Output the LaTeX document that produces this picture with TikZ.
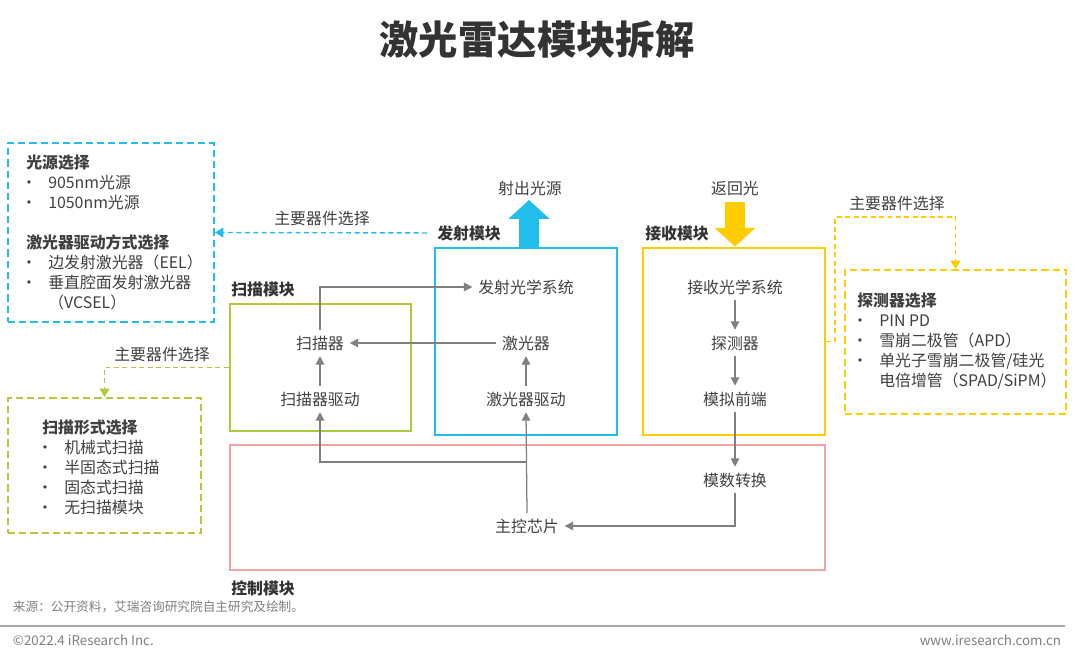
\documentclass[tikz,border=0pt]{standalone}
\usepackage{fontspec}
\setmainfont{Noto Sans CJK SC}
\usetikzlibrary{arrows.meta,fit}
\definecolor{cTx}{HTML}{22BEEB}
\definecolor{cRx}{HTML}{FFCC00}
\definecolor{cScan}{HTML}{ADCB3F}
\definecolor{cCtl}{HTML}{F0A3A3}
\definecolor{cText}{HTML}{404040}
\definecolor{cTitle}{HTML}{333333}
\definecolor{cLine}{HTML}{808080}
\definecolor{cFoot}{HTML}{7F7F7F}
\definecolor{cRule}{HTML}{A6A6A6}
\newcommand{\bul}{\makebox[0.55cm][l]{\hspace{-0.13cm}•}}
\newcommand{\ind}{\hspace*{0.55cm}}

\begin{document}
\begin{tikzpicture}[x=0.025cm, y=-0.025cm, font=\fontsize{11.3}{14.2}\selectfont, text=cText,
    modbox/.style={draw, line width=2pt, inner sep=0},
    optbox/.style={draw, line width=1.3pt, dash pattern=on 5pt off 3pt, inner sep=0},
    part/.style={inner sep=4pt},
    conn/.style={draw=cLine, line width=0.9pt, -{Triangle[length=6pt,width=6pt]}},
    optlink/.style={line width=1pt, dash pattern=on 3.5pt off 2.5pt, -{Triangle[length=6pt,width=7pt]}},
    modtitle/.style={font=\fontsize{11.3}{14.2}\selectfont\bfseries, text=cTitle, anchor=west, inner sep=0},
    list/.style={anchor=north west, align=left, inner sep=0},
    bigarrow/.style={line width=0.52cm, -{Triangle[length=0.47cm,width=1cm]}}]
  \useasboundingbox (0,0) rectangle (1080,661);
  \node[font=\fontsize{28}{32}\selectfont\bfseries, text=cTitle] (title) at (537,40) {激光雷达模块拆解};

  % module frames
  \node[modbox, draw=cTx, fit={(435,248) (617,435)}] (txbox) {};
  \node[modbox, draw=cRx, fit={(643,248) (825,435)}] (rxbox) {};
  \node[modbox, draw=cScan, fit={(230,304) (411,431)}] (scanbox) {};
  \node[modbox, draw=cCtl, fit={(230,445) (825,570)}] (ctlbox) {};
  \node[modtitle] (txtitle) at (437,233) {发射模块};
  \node[modtitle] (rxtitle) at (645,233) {接收模块};
  \node[modtitle] (scantitle) at (231,289) {扫描模块};
  \node[modtitle] (ctltitle) at (231,588) {控制模块};

  % light in / out
  \coordinate (txout) at (529,200);
  \coordinate (rxin) at (735,202);
  \draw[bigarrow, cTx] (txout |- txbox.north) -- (txout);
  \draw[bigarrow, cRx] (rxin) -- (rxin |- rxbox.north);
  \node (txoutlbl) at (530,188) {射出光源};
  \node (rxinlbl) at (735,188) {返回光};

  % parts
  \node[part] (txoptics) at (526,287) {发射光学系统};
  \node[part] (laser) at (526,343) {激光器};
  \node[part] (laserdrv) at (526,399) {激光器驱动};
  \node[part] (scanner) at (320,343) {扫描器};
  \node[part] (scandrv) at (320,399) {扫描器驱动};
  \node[part] (rxoptics) at (735,287) {接收光学系统};
  \node[part] (detector) at (735,343) {探测器};
  \node[part] (afe) at (735,399) {模拟前端};
  \node[part] (adc) at (735,480) {模数转换};
  \node[part] (mcu) at (527,526) {主控芯片};

  \draw[conn] (scanner.north) |- (txoptics.west);
  \draw[conn] (laser.west) -- (scanner.east);
  \draw[conn] (laserdrv) -- (laser);
  \draw[conn] (scandrv) -- (scanner);
  \draw[conn] (mcu.north) -- (laserdrv.south);
  \coordinate (split) at (mcu.north |- 0,462);
  \draw[conn] (split) -| (scandrv.south);
  \draw[conn] (rxoptics) -- (detector);
  \draw[conn] (detector) -- (afe);
  \draw[conn] (afe) -- (adc);
  \draw[conn] (adc.south) |- (mcu.east);

  % component options
  \node[optbox, draw=cTx, fit={(8,143) (214,322)}] (srcopt) {};
  \node[optbox, draw=cRx, fit={(845,270) (1066,414)}] (detopt) {};
  \node[optbox, draw=cScan, fit={(8,398) (201,533)}] (scanopt) {};
  \node[list] (srclist) at (26,155) {\textbf{光源选择}\\ \bul 905nm光源\\ \bul 1050nm光源\\[0.5cm]
    \textbf{激光器驱动方式选择}\\ \bul 边发射激光器（EEL）\\ \bul 垂直腔面发射激光器\\ \ind（VCSEL）};
  \node[list] (detlist) at (857,293) {\textbf{探测器选择}\\ \bul PIN PD\\ \bul 雪崩二极管（APD）\\
    \bul 单光子雪崩二极管/硅光\\ \ind 电倍增管（SPAD/SiPM）};
  \node[list] (scanlist) at (42,420) {\textbf{扫描形式选择}\\ \bul 机械式扫描\\ \bul 半固态式扫描\\
    \bul 固态式扫描\\ \bul 无扫描模块};

  \draw[optlink, cTx, shorten <=0.25cm] (txtitle.west) -- (srcopt.east);
  \draw[optlink, cScan] (scanbox.west) -| (scanopt.north);
  \coordinate (detbend) at (835,217);
  \draw[optlink, cRx] (rxbox.east) -| (detbend) -| (detopt.north);
  \node (srclink) at (322,218) {主要器件选择};
  \node (scanlink) at (162,354) {主要器件选择};
  \node (detlink) at (897,203) {主要器件选择};

  % footer
  \node[anchor=west, font=\fontsize{9}{11}\selectfont, text=cFoot] (source) at (8,607) {来源：公开资料，艾瑞咨询研究院自主研究及绘制。};
  \draw[cRule, line width=1.2pt] (0,626) -- (1065,626);
  \node[anchor=west, font=\fontsize{9.5}{11}\selectfont, text=cFoot] (copyr) at (8,640) {©2022.4 iResearch Inc.};
  \node[anchor=east, font=\fontsize{9.5}{11}\selectfont, text=cFoot] (site) at (1066,640) {www.iresearch.com.cn};
\end{tikzpicture}
\end{document}
